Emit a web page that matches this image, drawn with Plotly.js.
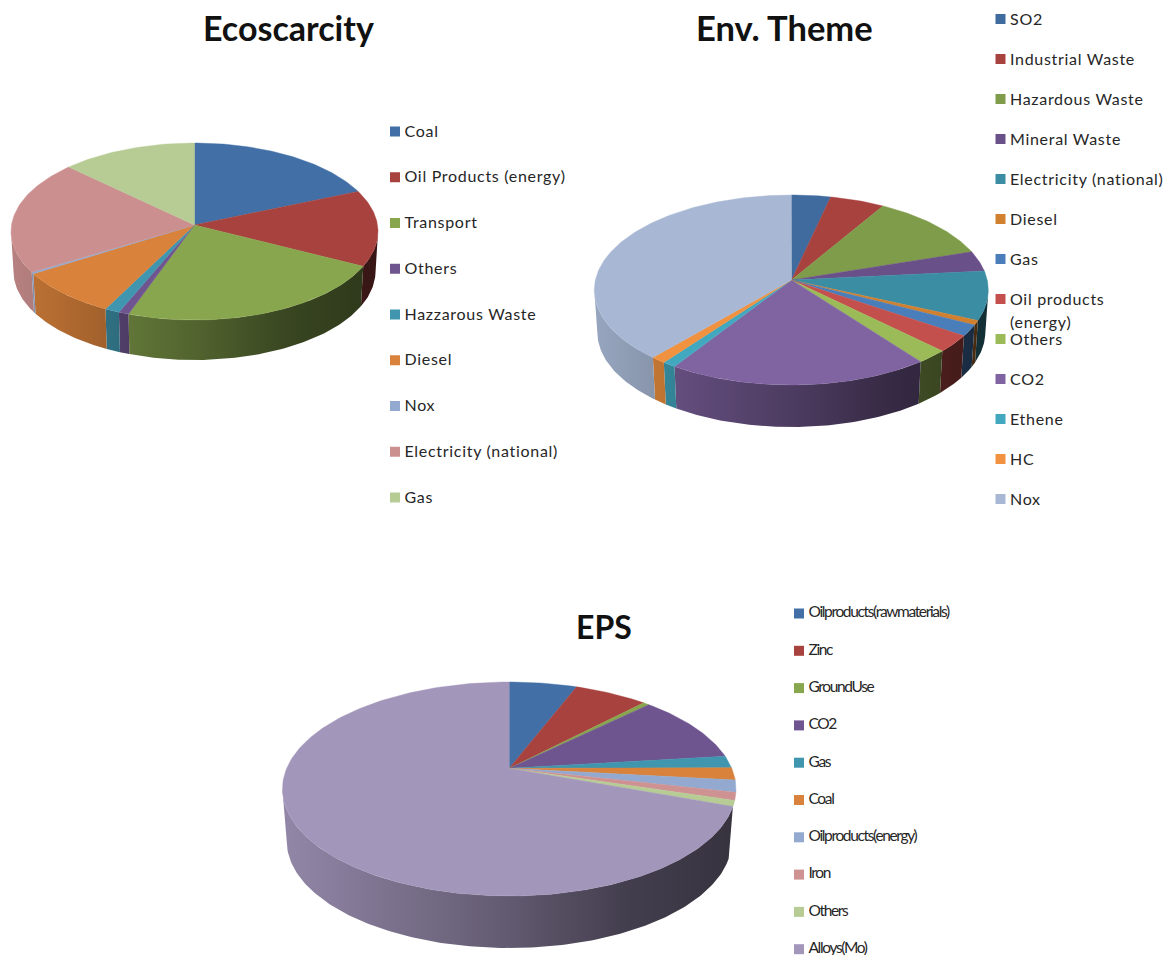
<!DOCTYPE html>
<html>
<head>
<meta charset="utf-8">
<script src="https://cdn.plot.ly/plotly-3.0.1.min.js"></script>
<style>
html, body { margin: 0; padding: 0; background: #fff; }
#chart { width: 1168px; height: 955px; }
</style>
</head>
<body>
<div id="chart"></div>
<script>
// Shares of each impact method, in percent
const ecoLabels = ["Coal", "Oil Products (energy)", "Transport", "Others", "Hazzarous Waste", "Diesel", "Nox", "Electricity (national)", "Gas"];
const ecoValues = [17.5, 13.9, 24.4, 0.9, 1.3, 9.0, 0.3, 20.6, 12.0];
const ecoColors = ["#4270a6", "#a8423f", "#88a64e", "#6f5590", "#3f96ae", "#d9823b", "#93a9cf", "#cc8f8f", "#b7cc94"];

const envLabels = ["SO2", "Industrial Waste", "Hazardous Waste", "Mineral Waste", "Electricity (national)", "Diesel", "Gas", "Oil products<br>(energy)", "Others", "CO2", "Ethene", "HC", "Nox"];
const envValues = [3.2, 4.5, 10.7, 3.4, 8.4, 0.8, 2.0, 3.1, 2.5, 21.5, 1.1, 1.2, 37.6];
const envColors = ["#3f6b9f", "#a8423f", "#7f9c4a", "#6a5088", "#3a8da3", "#d0802f", "#4a7ebb", "#c4504d", "#9bbb59", "#8064a2", "#42a8c0", "#f0923f", "#a8b8d4"];

const epsLabels = ["Oilproducts(rawmaterials)", "Zinc", "GroundUse", "CO2", "Gas", "Coal", "Oilproducts(energy)", "Iron", "Others", "Alloys(Mo)"];
const epsValues = [4.8, 5.3, 0.45, 9.5, 1.75, 1.85, 1.85, 1.2, 0.9, 72.4];
const epsColors = ["#4270a6", "#a8423f", "#88a64e", "#6f5590", "#3f96ae", "#d9823b", "#93a9cf", "#cf9292", "#b7cc94", "#a396bb"];

const titleFont = "Lato, 'Open Sans', sans-serif";
const textColor = "#262626";

// Wall shading from the left edge of a disc to its right edge
const wallShade = [[0, 0.9], [0.5, 0.6], [0.75, 0.42], [1, 0.33]];

function shade(hex, k) {
  const n = parseInt(hex.slice(1), 16);
  const c = [(n >> 16) & 255, (n >> 8) & 255, n & 255].map(v => Math.round(v * k));
  return "rgb(" + c.join(",") + ")";
}

// Rim point of a tilted disc at a clockwise angle (degrees) measured from 12 o'clock
function rim(g, deg, rx) {
  const r = deg * Math.PI / 180;
  return [g.cx + rx * Math.sin(r), g.cy - g.ry * Math.cos(r)];
}

function arc(g, from, to, dy, rx) {
  const out = [];
  const steps = Math.max(2, Math.ceil(Math.abs(to - from)));
  for (let i = 0; i <= steps; i++) {
    const p = rim(g, from + (to - from) * i / steps, rx);
    out.push([p[0], p[1] + dy]);
  }
  return out;
}

function pieTraces(labels, values, colors, g) {
  const total = values.reduce((a, b) => a + b, 0);
  const walls = [], tops = [];
  let acc = 0;
  values.forEach((v, i) => {
    const a = acc / total * 360;
    acc += v;
    const b = acc / total * 360;
    const hover = labels[i].replace("<br>", " ") + ": " + v + "%";

    const top = [[g.ax, g.ay]].concat(arc(g, a, b, 0, g.rx));
    top.push([g.ax, g.ay]);
    tops.push({
      type: "scatter", mode: "lines", fill: "toself", hoverinfo: "text", text: hover,
      x: top.map(p => p[0]), y: top.map(p => p[1]),
      fillcolor: colors[i], line: { width: 0.4, color: colors[i] }, showlegend: false
    });

    // Only the part of the slice on the near half of the disc shows a wall;
    // the lower rim sits a little further away, so it is slightly narrower
    const from = Math.max(a, g.wallFrom), to = Math.min(b, 270);
    if (to > from) {
      const wall = arc(g, from, to, 0, g.rx).concat(arc(g, to, from, g.depth, g.rx - g.taper));
      wall.push(wall[0]);
      walls.push({
        type: "scatter", mode: "lines", fill: "toself", hoverinfo: "text", text: hover,
        x: wall.map(p => p[0]), y: wall.map(p => p[1]),
        line: { width: 0, color: colors[i] }, showlegend: false,
        fillcolor: colors[i],
        fillgradient: {
          type: "horizontal", start: g.cx - g.rx, stop: g.cx + g.rx,
          colorscale: wallShade.map(s => [s[0], shade(colors[i], s[1])])
        }
      });
    }
  });
  return walls.concat(tops);
}

function legendTraces(labels, colors, g) {
  const ys = labels.map((_, i) => g.y0 + g.step * i);
  const tx = [], ty = [], tt = [];
  labels.forEach((l, i) => l.split("<br>").forEach((line, j) => {
    tx.push(g.x + 9.5); ty.push(ys[i] + g.nudge + j * 23); tt.push(line);
  }));
  return [{
    type: "scatter", mode: "markers", hoverinfo: "skip", showlegend: false,
    x: labels.map(() => g.x), y: ys,
    marker: { symbol: "square", size: g.box, color: colors, line: { width: 0 } }
  }, {
    type: "scatter", mode: "text", hoverinfo: "skip", showlegend: false,
    x: tx, y: ty, text: tt, textposition: "middle right",
    textfont: { family: titleFont, size: g.size, color: textColor }
  }];
}

const traces = [].concat(
  pieTraces(ecoLabels, ecoValues, ecoColors, { cx: 194.5, cy: 231.5, rx: 183.5, ry: 88.5, ax: 194.5, ay: 225, depth: 40, taper: 2.5, wallFrom: 91 }),
  pieTraces(envLabels, envValues, envColors, { cx: 791.3, cy: 290, rx: 197, ry: 95, ax: 791.5, ay: 280, depth: 42, taper: 3, wallFrom: 92 }),
  pieTraces(epsLabels, epsValues, epsColors, { cx: 509.2, cy: 789, rx: 226.8, ry: 107, ax: 509.2, ay: 768.3, depth: 52, taper: 4.3, wallFrom: 99.5 }),
  legendTraces(ecoLabels, ecoColors, { x: 395, y0: 131.5, step: 45.75, box: 10, size: 16, nudge: 1 }),
  legendTraces(envLabels, envColors, { x: 1000.5, y0: 19, step: 40, box: 10, size: 16, nudge: 1.5 }),
  legendTraces(epsLabels, epsColors, { x: 799, y0: 613.5, step: 37.3, box: 10, size: 15.5, nudge: 0 })
);

function title(text, x, y, size) {
  return {
    text: "<b>" + text + "</b>", x: x, y: y, xref: "x", yref: "y", showarrow: false,
    xanchor: "center", yanchor: "middle",
    font: { family: titleFont, size: size, color: "#111" }
  };
}

const layout = {
  width: 1168, height: 955,
  margin: { l: 0, r: 0, t: 0, b: 0 },
  paper_bgcolor: "#fff", plot_bgcolor: "#fff",
  showlegend: false, hovermode: "closest",
  xaxis: { range: [0, 1168], visible: false, fixedrange: true },
  yaxis: { range: [955, 0], visible: false, fixedrange: true },
  annotations: [title("Ecoscarcity", 288.5, 27, 34), title("Env. Theme", 784, 27, 34.5), title("EPS", 604, 626, 32)]
};

Plotly.newPlot("chart", traces, layout, { displayModeBar: false }).then(() => {
  // The EPS legend is set tight, the two upper legends slightly open
  const nodes = document.querySelectorAll("#chart .textpoint text");
  const firstEps = nodes.length - epsLabels.length;
  nodes.forEach((el, i) => {
    el.style.letterSpacing = i >= firstEps ? "-1.35px" : "0.7px";
  });
});
</script>
</body>
</html>
